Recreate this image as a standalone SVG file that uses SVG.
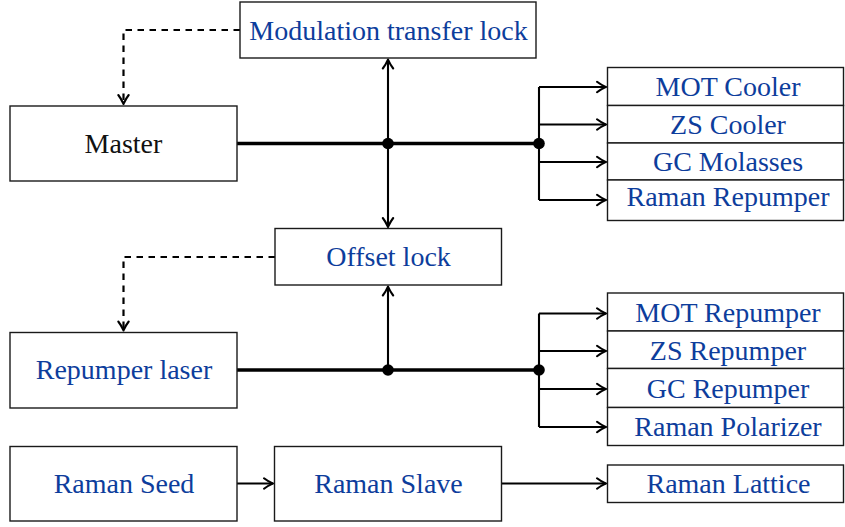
<svg xmlns="http://www.w3.org/2000/svg" width="845" height="527" viewBox="0 0 845 527">
<defs>
<marker id="arr" markerUnits="userSpaceOnUse" markerWidth="14" markerHeight="14" viewBox="-10 -7 12 14" refX="0" refY="0" orient="auto-start-reverse" overflow="visible">
<path d="M-9,-5.2 C-5.5,-2.4 -2,-0.9 0,0 C-2,0.9 -5.5,2.4 -9,5.2" fill="none" stroke="#000" stroke-width="2.1" stroke-linecap="round" stroke-linejoin="round"/>
</marker>
<style>
.box{fill:#fff;stroke:#1a1a1a;stroke-width:1.4}
.t{font-family:"Liberation Serif",serif;font-size:28px;text-anchor:middle;fill:#0d3d9c}
.tk{fill:#111}
.bus{fill:none;stroke:#000;stroke-width:3.4}
.ln{fill:none;stroke:#000;stroke-width:2.1}
.dash{fill:none;stroke:#000;stroke-width:2.2;stroke-dasharray:6.5 5.5}
.dot{fill:#000}
</style>
</defs>
<g id="connectors">
<path class="dash" d="M240,30 H123.5 V104" marker-end="url(#arr)"/>
<path class="dash" d="M275,257 H123.5 V330.5" marker-end="url(#arr)"/>
<path class="bus" d="M237,143.5 H539"/>
<path class="ln" d="M388,59.5 V227" marker-start="url(#arr)" marker-end="url(#arr)"/>
<path class="ln" d="M539,87 V200"/>
<path class="ln" d="M539,87 H606" marker-end="url(#arr)"/>
<path class="ln" d="M539,124.5 H606" marker-end="url(#arr)"/>
<path class="ln" d="M539,162 H606" marker-end="url(#arr)"/>
<path class="ln" d="M539,200 H606" marker-end="url(#arr)"/>
<circle class="dot" cx="388" cy="143.5" r="5.8"/>
<circle class="dot" cx="539" cy="143.5" r="5.8"/>
<path class="bus" d="M237,370 H539"/>
<path class="ln" d="M388,370 V286.5" marker-end="url(#arr)"/>
<path class="ln" d="M539,313.5 V427"/>
<path class="ln" d="M539,313.5 H606" marker-end="url(#arr)"/>
<path class="ln" d="M539,351 H606" marker-end="url(#arr)"/>
<path class="ln" d="M539,389 H606" marker-end="url(#arr)"/>
<path class="ln" d="M539,427 H606" marker-end="url(#arr)"/>
<circle class="dot" cx="388" cy="370" r="5.8"/>
<circle class="dot" cx="539" cy="370" r="5.8"/>
<path class="ln" d="M237,483.5 H273" marker-end="url(#arr)"/>
<path class="ln" d="M501.5,483.5 H606" marker-end="url(#arr)"/>
</g>
<g id="modulation-transfer-lock"><rect class="box" x="240" y="2" width="296" height="56"/><text class="t" x="388.5" y="40">Modulation transfer lock</text></g>
<g id="master"><rect class="box" x="10" y="106" width="227" height="75"/><text class="t tk" x="123.5" y="153">Master</text></g>
<g id="offset-lock"><rect class="box" x="275" y="228.5" width="226.5" height="56.5"/><text class="t" x="388.5" y="266">Offset lock</text></g>
<g id="mot-cooler"><rect class="box" x="607.5" y="67.5" width="236" height="38"/><text class="t" x="728" y="96">MOT Cooler</text></g>
<g id="zs-cooler"><rect class="box" x="607.5" y="105.5" width="236" height="37.5"/><text class="t" x="728" y="133.5">ZS Cooler</text></g>
<g id="gc-molasses"><rect class="box" x="607.5" y="143" width="236" height="37"/><text class="t" x="728" y="171">GC Molasses</text></g>
<g id="raman-repumper"><rect class="box" x="607.5" y="180" width="236" height="40.5"/><text class="t" x="728" y="206">Raman Repumper</text></g>
<g id="repumper-laser"><rect class="box" x="10" y="332.5" width="227" height="75.5"/><text class="t" x="124" y="379">Repumper laser</text></g>
<g id="mot-repumper"><rect class="box" x="607.5" y="293" width="236" height="38"/><text class="t" x="728" y="322">MOT Repumper</text></g>
<g id="zs-repumper"><rect class="box" x="607.5" y="331" width="236" height="37.5"/><text class="t" x="728" y="360">ZS Repumper</text></g>
<g id="gc-repumper"><rect class="box" x="607.5" y="368.5" width="236" height="39"/><text class="t" x="728" y="397.5">GC Repumper</text></g>
<g id="raman-polarizer"><rect class="box" x="607.5" y="407.5" width="236" height="38"/><text class="t" x="728" y="436">Raman Polarizer</text></g>
<g id="raman-seed"><rect class="box" x="10" y="446.5" width="227" height="74.5"/><text class="t" x="124" y="493">Raman Seed</text></g>
<g id="raman-slave"><rect class="box" x="274.5" y="446.5" width="227" height="74.5"/><text class="t" x="388.5" y="493">Raman Slave</text></g>
<g id="raman-lattice"><rect class="box" x="607.5" y="465" width="236" height="37.5"/><text class="t" x="728.5" y="493">Raman Lattice</text></g>
</svg>
